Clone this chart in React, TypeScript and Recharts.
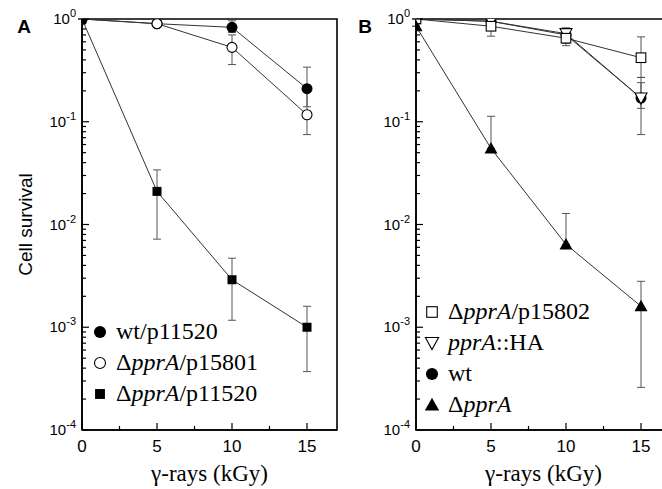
import React from 'react';
import { LineChart, Line, XAxis, YAxis, ErrorBar, ReferenceArea } from 'recharts';

// ---------- data ----------
const doses = [0, 5, 10, 15];

// Panel A
const wtP11520 = [1.0, 0.9, 0.83, 0.21];
const wtP11520Low = [1.0, 0.9, 0.74, 0.14];
const wtP11520High = [1.0, 0.9, 0.96, 0.34];

const dP15801 = [1.0, 0.9, 0.53, 0.117];
const dP15801Low = [1.0, 0.9, 0.36, 0.075];
const dP15801High = [1.0, 0.9, 0.7, 0.22];

const dP11520 = [1.0, 0.021, 0.0029, 0.001];
const dP11520Low = [1.0, 0.0072, 0.00117, 0.00037];
const dP11520High = [1.0, 0.034, 0.0047, 0.0016];

// Panel B
const dP15802 = [1.0, 0.85, 0.65, 0.42];
const dP15802Low = [1.0, 0.68, 0.55, 0.27];
const dP15802High = [1.0, 0.92, 0.78, 0.67];

const pprAHA = [1.0, 0.95, 0.72, 0.17];
const pprAHALow = [1.0, 0.88, 0.6, 0.075];
const pprAHAHigh = [1.0, 1.0, 0.82, 0.27];

const wtB = [1.0, 0.95, 0.7, 0.17];
const wtBLow = [1.0, 0.95, 0.58, 0.135];
const wtBHigh = [1.0, 0.95, 0.8, 0.24];

const dPprA = [0.85, 0.055, 0.0064, 0.0016];
const dPprALow = [0.85, 0.055, 0.0064, 0.00026];
const dPprAHigh = [0.85, 0.113, 0.0128, 0.0028];

// ticks
const xTicks = [0, 2.5, 5, 7.5, 10, 12.5, 15];
const xTickLabels = [0, 5, 10, 15];
const yMajorExponents = [-4, -3, -2, -1, 0];
const yMinorMultipliers = [2, 3, 4, 5, 6, 7, 8, 9];

const yTicks: number[] = [];
yMajorExponents.forEach((e) => {
  yTicks.push(Math.pow(10, e));
  if (e < 0) yMinorMultipliers.forEach((m) => yTicks.push(m * Math.pow(10, e)));
});

const xAxisTitle = 'γ-rays (kGy)';
const yAxisTitle = 'Cell survival';

// ---------- styling ----------
const SANS = '"Liberation Sans", Arial, Helvetica, sans-serif';
const SERIF = '"Liberation Serif", "Times New Roman", Times, serif';

type Series = {
  key: string;
  label: string;
  values: number[];
  low: number[];
  high: number[];
  marker: string;
};

const panelASeries: Series[] = [
  { key: 'wtP11520', label: 'wt/p11520', values: wtP11520, low: wtP11520Low, high: wtP11520High, marker: 'filledCircle' },
  { key: 'dP15801', label: 'Δ*pprA*/p15801', values: dP15801, low: dP15801Low, high: dP15801High, marker: 'openCircle' },
  { key: 'dP11520', label: 'Δ*pprA*/p11520', values: dP11520, low: dP11520Low, high: dP11520High, marker: 'filledSquare' },
];

const panelBSeries: Series[] = [
  { key: 'dP15802', label: 'Δ*pprA*/p15802', values: dP15802, low: dP15802Low, high: dP15802High, marker: 'openSquare' },
  { key: 'pprAHA', label: '*pprA*::HA', values: pprAHA, low: pprAHALow, high: pprAHAHigh, marker: 'openTriangleDown' },
  { key: 'wtB', label: 'wt', values: wtB, low: wtBLow, high: wtBHigh, marker: 'filledCircle' },
  { key: 'dPprA', label: 'Δ*pprA*', values: dPprA, low: dPprALow, high: dPprAHigh, marker: 'filledTriangle' },
];
const panelBDrawOrder = ['wtB', 'pprAHA', 'dP15802', 'dPprA'];

// ---------- components ----------
function Marker({ shape, cx, cy, s = 1 }: { shape: string; cx: number; cy: number; s?: number }) {
  if (cx == null || cy == null || isNaN(cx) || isNaN(cy)) return null;
  switch (shape) {
    case 'filledCircle':
      return <circle cx={cx} cy={cy} r={5.5 * s} fill="#000" />;
    case 'openCircle':
      return <circle cx={cx} cy={cy} r={5 * s} fill="#fff" stroke="#000" strokeWidth={1.1} />;
    case 'filledSquare': {
      const h = 4.5 * s;
      return <rect x={cx - h} y={cy - h} width={2 * h} height={2 * h} fill="#000" />;
    }
    case 'openSquare': {
      const h = 4.8 * s;
      return <rect x={cx - h} y={cy - h} width={2 * h} height={2 * h} fill="#fff" stroke="#000" strokeWidth={1.1} />;
    }
    case 'filledTriangle': {
      const w = 6.5 * s;
      return <polygon points={`${cx},${cy - 6.5 * s} ${cx - w},${cy + 5 * s} ${cx + w},${cy + 5 * s}`} fill="#000" />;
    }
    case 'openTriangleDown': {
      const w = 6 * s;
      return (
        <polygon
          points={`${cx - w},${cy - 5 * s} ${cx + w},${cy - 5 * s} ${cx},${cy + 6 * s}`}
          fill="#fff"
          stroke="#000"
          strokeWidth={1.1}
        />
      );
    }
    default:
      return null;
  }
}

function RichLabel({ text }: { text: string }) {
  const parts = text.split('*');
  return (
    <>
      {parts.map((p, i) => (
        <tspan key={i} fontStyle={i % 2 === 1 ? 'italic' : 'normal'}>
          {p}
        </tspan>
      ))}
    </>
  );
}

function YTick(props: any) {
  const { x, y, payload } = props;
  const v = payload.value as number;
  const lg = Math.log10(v);
  const exp = Math.round(lg);
  const isMajor = Math.abs(lg - exp) < 1e-6;
  return (
    <g>
      <line x1={x} x2={x + (isMajor ? 7 : 4)} y1={y} y2={y} stroke="#000" strokeWidth={1.2} />
      {isMajor && (
        <text x={x - 6} y={y + 5} textAnchor="end" fontFamily={SANS} fontSize={15} fill="#000">
          <tspan>10</tspan>
          <tspan fontSize={11} dy={-7}>
            {String(exp)}
          </tspan>
        </text>
      )}
    </g>
  );
}

function XTick(props: any) {
  const { x, y, payload } = props;
  const v = payload.value as number;
  const isMajor = xTickLabels.includes(v);
  return (
    <g>
      <line x1={x} x2={x} y1={y} y2={y - (isMajor ? 7 : 4)} stroke="#000" strokeWidth={1.2} />
      {isMajor && (
        <text x={x} y={y + 22} textAnchor="middle" fontFamily={SANS} fontSize={17} fill="#000">
          {String(v)}
        </text>
      )}
    </g>
  );
}

type PanelProps = {
  series: Series[];
  drawOrder: string[];
  letter: string;
  letterX: number;
  showYTitle: boolean;
  left: number;
  legendX: number;
  legendTop: number;
};

function Panel({ series, drawOrder, letter, letterX, showYTitle, left, legendX, legendTop }: PanelProps) {
  const data = doses.map((d, i) => {
    const row: any = { dose: d };
    series.forEach((s) => {
      row[s.key] = s.values[i];
      row[s.key + 'Err'] = [s.values[i] - s.low[i], s.high[i] - s.values[i]];
    });
    return row;
  });
  const ordered = drawOrder.map((k) => series.find((s) => s.key === k)!) as Series[];

  return (
    <div style={{ position: 'absolute', left, top: 0, width: 340, height: 489 }}>
      <LineChart width={340} height={489} data={data} margin={{ top: 19, right: 3, bottom: 0, left: 0 }}>
        <ReferenceArea
          x1={0}
          x2={17}
          y1={1e-4}
          y2={1}
          fill="none"
          fillOpacity={0}
          stroke="#000"
          strokeWidth={1.6}
          ifOverflow="visible"
        />
        <XAxis
          dataKey="dose"
          type="number"
          domain={[0, 17]}
          ticks={xTicks}
          interval={0}
          allowDataOverflow
          tick={<XTick />}
          tickSize={0}
          tickMargin={0}
          tickLine={false}
          height={59}
          axisLine={{ stroke: '#000', strokeWidth: 1.6 }}
          label={{
            value: xAxisTitle,
            position: 'insideBottom',
            offset: 8,
            style: { fontFamily: SERIF, fontSize: 23, fill: '#000' },
          }}
        />
        <YAxis
          type="number"
          scale="log"
          domain={[1e-4, 1]}
          ticks={yTicks}
          interval={0}
          allowDataOverflow
          tick={<YTick />}
          tickSize={0}
          tickMargin={0}
          tickLine={false}
          width={82}
          axisLine={{ stroke: '#000', strokeWidth: 1.6 }}
          label={
            showYTitle
              ? {
                  value: yAxisTitle,
                  angle: -90,
                  position: 'insideLeft',
                  offset: 25,
                  textAnchor: 'middle',
                  style: { fontFamily: SANS, fontSize: 19, fill: '#000' },
                }
              : undefined
          }
        />
        {ordered.map((s) => (
          <Line
            key={s.key}
            dataKey={s.key}
            type="linear"
            stroke="#333"
            strokeWidth={1}
            isAnimationActive={false}
            activeDot={false}
            dot={(p: any) => <Marker key={`${s.key}-${p.index}`} shape={s.marker} cx={p.cx} cy={p.cy} />}
          >
            <ErrorBar dataKey={s.key + 'Err'} width={4} stroke="#555" strokeWidth={1} direction="y" />
          </Line>
        ))}
      </LineChart>
      <svg
        width={340}
        height={489}
        style={{ position: 'absolute', left: 0, top: 0, pointerEvents: 'none' }}
      >
        <text x={letterX} y={33} textAnchor="middle" fontFamily={SANS} fontWeight="bold" fontSize={19} fill="#000">
          {letter}
        </text>
        {series.map((s, i) => {
          const cy = legendTop + i * 31;
          return (
            <g key={s.key}>
              <Marker shape={s.marker} cx={legendX} cy={cy} s={1.1} />
              <text x={legendX + 16} y={cy + 7} fontFamily={SERIF} fontSize={24} fill="#000">
                <RichLabel text={s.label} />
              </text>
            </g>
          );
        })}
      </svg>
    </div>
  );
}

export default function App() {
  return (
    <div
      style={{
        position: 'absolute',
        left: 0,
        top: 0,
        width: 662,
        height: 489,
        overflow: 'hidden',
        background: '#fff',
      }}
    >
      <Panel
        series={panelASeries}
        drawOrder={['wtP11520', 'dP15801', 'dP11520']}
        letter="A"
        letterX={24}
        showYTitle={true}
        left={0}
        legendX={100}
        legendTop={332}
      />
      <Panel
        series={panelBSeries}
        drawOrder={panelBDrawOrder}
        letter="B"
        letterX={31}
        showYTitle={false}
        left={334}
        legendX={98}
        legendTop={312}
      />
    </div>
  );
}
